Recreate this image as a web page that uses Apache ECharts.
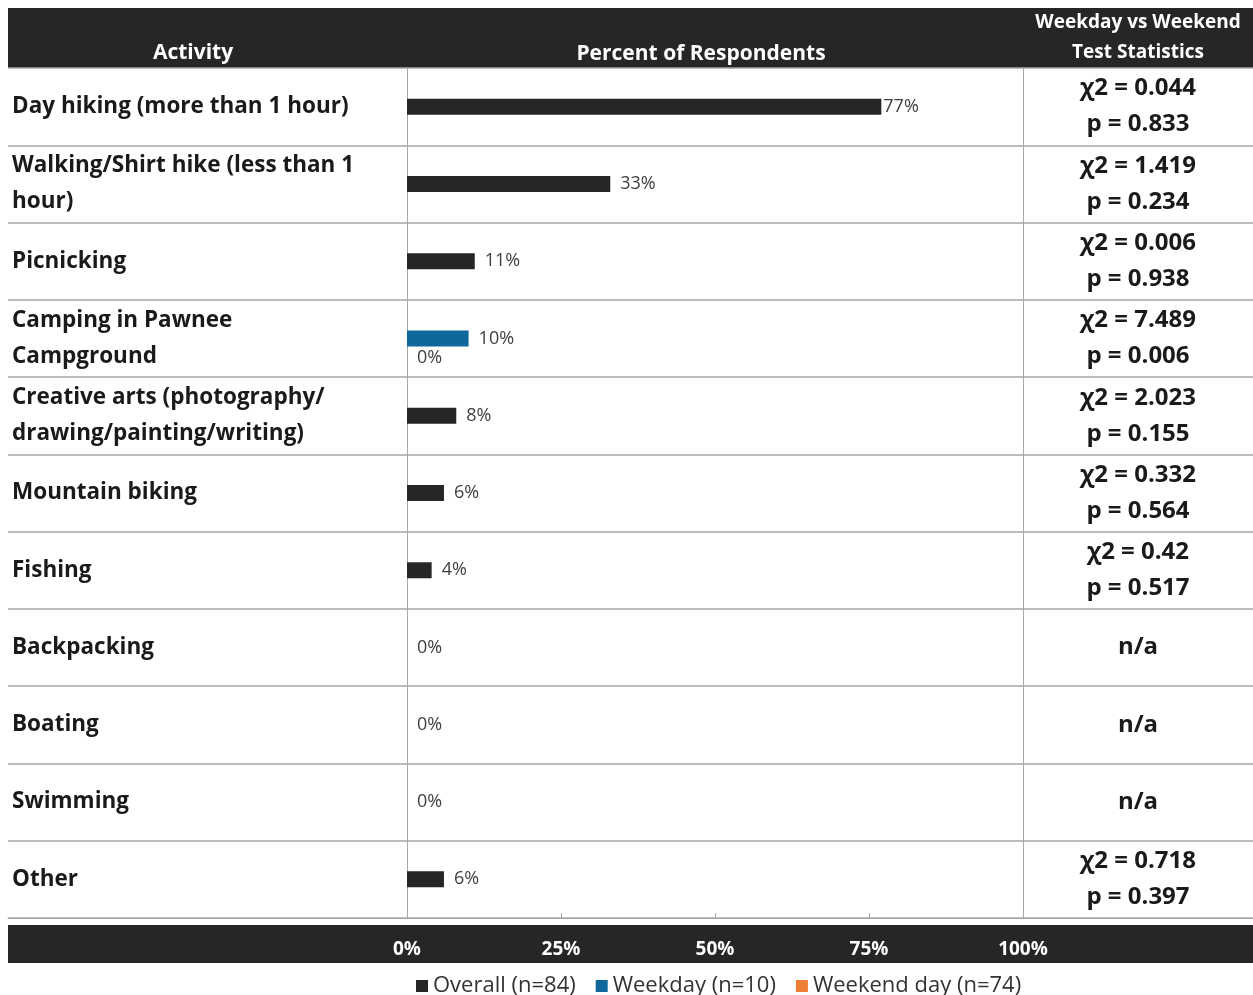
<!DOCTYPE html>
<html>
<head>
<meta charset="utf-8">
<title>Activities</title>
<script src="https://cdn.jsdelivr.net/npm/echarts@6/dist/echarts.min.js"></script>
<style>
    html, body { margin: 0; padding: 0; background: #fff; }
    #chart { width: 1253px; height: 995px; }
</style>
</head>
<body>
<div id="chart"></div>
<script>
var activities = [
    'Day hiking (more than 1 hour)',
    'Walking/Shirt hike (less than 1\nhour)',
    'Picnicking',
    'Camping in Pawnee\nCampground',
    'Creative arts (photography/\ndrawing/painting/writing)',
    'Mountain biking',
    'Fishing',
    'Backpacking',
    'Boating',
    'Swimming',
    'Other'
];
var overall = [77, 33, 11, null, 8, 6, 4, 0, 0, 0, 6];
var weekday = [null, null, null, 10, null, null, null, null, null, null, null];
var weekend = [null, null, null, 0, null, null, null, null, null, null, null];
var chiSq = ['0.044', '1.419', '0.006', '7.489', '2.023', '0.332', '0.42', null, null, null, '0.718'];
var pVals = ['0.833', '0.234', '0.938', '0.006', '0.155', '0.564', '0.517', null, null, null, '0.397'];
var xTicks = [0, 25, 50, 75, 100];
var seriesNames = ['Overall (n=84)', 'Weekday (n=10)', 'Weekend day (n=74)'];

var FONT = '"Open Sans"';
var dark = '#262626';
var gridLine = '#a6a6a6';

var stats = chiSq.map(function (c, i) {
    if (c === null) return 'n/a';
    return '\u03c72 = ' + c + '\np = ' + pVals[i];
});

var myChart = echarts.init(document.getElementById('chart'));

var pctLabel = {
    show: true,
    position: 'right',
    distance: 10,
    formatter: '{c}%',
    color: '#404040',
    fontFamily: FONT,
    fontSize: 18
};

myChart.setOption({
    animation: false,
    textStyle: { fontFamily: FONT },
    graphic: [
        { type: 'rect', z: -1, shape: { x: 8, y: 8, width: 1245, height: 60 }, style: { fill: dark } },
        { type: 'rect', z: -1, shape: { x: 8, y: 925, width: 1245, height: 38 }, style: { fill: dark } },
        { type: 'text', x: 193, y: 53, style: { text: 'Activity', fill: '#fff', font: 'bold 21px ' + FONT, align: 'center', verticalAlign: 'middle' } },
        { type: 'text', x: 701, y: 54, style: { text: 'Percent of Respondents', fill: '#fff', font: 'bold 21px ' + FONT, align: 'center', verticalAlign: 'middle' } },
        { type: 'text', x: 1138, y: 38, style: { text: 'Weekday vs Weekend\nTest Statistics', fill: '#fff', font: 'bold 19px ' + FONT, lineHeight: 30, align: 'center', verticalAlign: 'middle' } }
    ],
    legend: {
        top: 970,
        left: 411,
        icon: 'rect',
        itemWidth: 12,
        itemHeight: 12,
        itemGap: 20,
        data: seriesNames,
        textStyle: { fontSize: 22, color: '#333', fontFamily: FONT }
    },
    grid: [
        { left: 407, right: 230, top: 68, bottom: 77 },
        { left: 8, right: 0, top: 68, bottom: 77 }
    ],
    xAxis: [
        {
            type: 'value',
            gridIndex: 0,
            min: 0,
            max: 100,
            interval: 25,
            axisLine: { show: true, lineStyle: { color: gridLine } },
            axisTick: { show: true, inside: true, length: 5, lineStyle: { color: gridLine } },
            splitLine: { show: false },
            axisLabel: {
                margin: 22,
                color: '#fff',
                fontWeight: 'bold',
                fontSize: 19,
                formatter: function (v) { return xTicks.indexOf(v) >= 0 ? v + '%' : ''; }
            }
        },
        {
            type: 'value',
            gridIndex: 1,
            axisLine: { show: true, lineStyle: { color: gridLine } },
            axisTick: { show: false },
            axisLabel: { show: false },
            splitLine: { show: false }
        }
    ],
    yAxis: [
        {
            type: 'category',
            gridIndex: 0,
            inverse: true,
            data: activities,
            axisLine: { show: true, lineStyle: { color: gridLine } },
            axisTick: { show: false },
            axisLabel: {
                align: 'left',
                margin: 395,
                color: '#1a1a1a',
                fontWeight: 'bold',
                fontSize: 22.5,
                lineHeight: 36
            }
        },
        {
            type: 'category',
            gridIndex: 0,
            position: 'right',
            inverse: true,
            data: stats,
            axisLine: { show: true, lineStyle: { color: gridLine } },
            axisTick: { show: false },
            axisLabel: {
                align: 'center',
                margin: 115,
                color: '#1a1a1a',
                fontWeight: 'bold',
                fontSize: 24,
                lineHeight: 36
            }
        },
        {
            type: 'category',
            gridIndex: 1,
            inverse: true,
            data: activities,
            axisLine: { show: false },
            axisTick: { show: false },
            axisLabel: { show: false },
            splitLine: { show: true, lineStyle: { color: gridLine, width: 1.5 } }
        }
    ],
    series: [
        {
            name: seriesNames[0],
            type: 'bar',
            barWidth: 16,
            barGap: '-100%',
            itemStyle: { color: dark },
            label: pctLabel,
            data: overall.map(function (v, i) {
                return i === 0 ? { value: v, label: { distance: 2 } } : v;
            })
        },
        {
            name: seriesNames[1],
            type: 'bar',
            barWidth: 16,
            barGap: '-100%',
            itemStyle: { color: '#0f679b' },
            label: pctLabel,
            data: weekday
        },
        {
            name: seriesNames[2],
            type: 'bar',
            barWidth: 16,
            barGap: '-100%',
            itemStyle: { color: '#ed7d31' },
            label: Object.assign({}, pctLabel, { offset: [0, 19] }),
            data: weekend
        }
    ]
});
</script>
</body>
</html>
